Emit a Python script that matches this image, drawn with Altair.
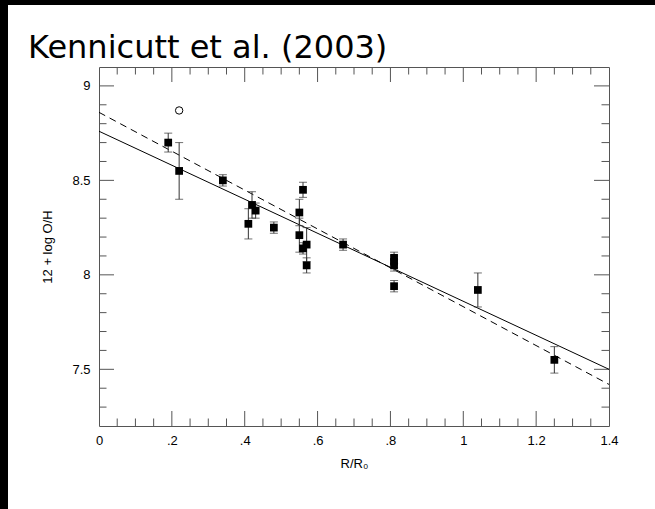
import altair as alt
import pandas as pd

# Galactocentric radius (R/R0) and oxygen abundance with 1-sigma errors
radius = [0.19, 0.22, 0.34, 0.42, 0.43, 0.41, 0.48, 0.56, 0.55, 0.55,
          0.56, 0.57, 0.57, 0.67, 0.81, 0.81, 0.81, 0.81, 1.04, 1.25]
abund = [8.70, 8.55, 8.50, 8.37, 8.34, 8.27, 8.25, 8.45, 8.33, 8.21,
         8.14, 8.16, 8.05, 8.16, 8.09, 8.07, 8.05, 7.94, 7.92, 7.55]
abund_err = [0.05, 0.15, 0.03, 0.07, 0.04, 0.08, 0.03, 0.04, 0.07, 0.09,
             0.03, 0.09, 0.04, 0.03, 0.03, 0.03, 0.03, 0.03, 0.09, 0.07]

# Excluded region (open symbol)
open_radius = [0.22]
open_abund = [8.87]

# Gradient fits, given at the ends of the radius range
fit_r = [0.0, 1.4]
fit_solid = [8.76, 7.50]
fit_dashed = [8.86, 7.42]

# Axis tick positions
x_major = [0.2, 0.4, 0.6, 0.8, 1.0, 1.2]
x_minor = [round(0.05 * i, 2) for i in range(1, 28) if i % 4 != 0]
y_major = [7.5, 8.0, 8.5, 9.0]
y_minor = [round(7.2 + 0.1 * i, 1) for i in range(1, 19)]
y_minor = [v for v in y_minor if v not in y_major]

W, H = 510, 359
MAJ, MIN = 15, 7.5
FRAME = "#555555"
FONT = "Liberation Sans"

pts = pd.DataFrame({"r": radius, "oh": abund, "e": abund_err})
pts["lo"] = pts["oh"] - pts["e"]
pts["hi"] = pts["oh"] + pts["e"]
opn = pd.DataFrame({"r": open_radius, "oh": open_abund})
fits = pd.DataFrame({"r": fit_r, "solid": fit_solid, "dashed": fit_dashed})
one = pd.DataFrame({"k": [0]})

xscale = alt.Scale(domain=[0, 1.4], nice=False, zero=False)
yscale = alt.Scale(domain=[7.2, 9.1], nice=False, zero=False)
xaxis = alt.Axis(
    values=[0, 0.2, 0.4, 0.6, 0.8, 1.0, 1.2, 1.4],
    labelExpr="datum.value == 0 ? '0' : (datum.value < 1 ? replace(format(datum.value, '.1f'), '0.', '.') : format(datum.value, '~g'))",
    ticks=False, domain=False, grid=False, labelFlush=False,
    labelFont=FONT, labelFontSize=13, labelColor="black", labelPadding=8,
    title="R/R₀", titleFont=FONT, titleFontSize=13, titleFontWeight="normal",
    titleColor="black", titlePadding=10,
)
yaxis = alt.Axis(
    values=y_major, format="~g",
    ticks=False, domain=False, grid=False, labelFlush=False,
    labelFont=FONT, labelFontSize=13, labelColor="black", labelPadding=9,
    title="12 + log O/H", titleFont=FONT, titleFontSize=13, titleFontWeight="normal",
    titleColor="black", titlePadding=17,
)


def X(field):
    return alt.X(field, type="quantitative", scale=xscale, axis=xaxis)


def Y(field):
    return alt.Y(field, type="quantitative", scale=yscale, axis=yaxis)


# Inward ticks on all four sides
xmaj = pd.DataFrame({"t": x_major})
xmin = pd.DataFrame({"t": x_minor})
ymaj = pd.DataFrame({"t": y_major})
ymin = pd.DataFrame({"t": y_minor})


def xticks(df, length):
    rule = alt.Chart(df).mark_rule(color=FRAME, strokeWidth=1)
    return (rule.encode(x=X("t"), y=alt.value(H), y2=alt.value(H - length))
            + rule.encode(x=X("t"), y=alt.value(0), y2=alt.value(length)))


def yticks(df, length):
    rule = alt.Chart(df).mark_rule(color=FRAME, strokeWidth=1)
    return (rule.encode(y=Y("t"), x=alt.value(0), x2=alt.value(length))
            + rule.encode(y=Y("t"), x=alt.value(W), x2=alt.value(W - length)))


solid = alt.Chart(fits).mark_line(color="black", strokeWidth=1).encode(x=X("r"), y=Y("solid"))
dashed = alt.Chart(fits).mark_line(color="black", strokeWidth=1, strokeDash=[7, 5]).encode(
    x=X("r"), y=Y("dashed"))

bars = alt.Chart(pts).mark_rule(color="#333333", strokeWidth=1).encode(
    x=X("r"), y=Y("lo"), y2="hi")
cap_lo = alt.Chart(pts).mark_tick(color="#333333", orient="horizontal", size=8, thickness=1).encode(
    x=X("r"), y=Y("lo"))
cap_hi = alt.Chart(pts).mark_tick(color="#333333", orient="horizontal", size=8, thickness=1).encode(
    x=X("r"), y=Y("hi"))
squares = alt.Chart(pts).mark_square(color="black", size=60, opacity=1).encode(
    x=X("r"), y=Y("oh"))
circle = alt.Chart(opn).mark_point(shape="circle", filled=False, color="black",
                                   size=55, strokeWidth=1, opacity=1).encode(
    x=X("r"), y=Y("oh"))

title = alt.Chart(one).mark_text(
    text="Kennicutt et al. (2003)", font="DejaVu Sans", fontSize=32,
    align="left", baseline="alphabetic", color="black",
).encode(x=alt.value(-71), y=alt.value(-9))

# Dark strips along the left and top edges of the page
edge_left = alt.Chart(one).mark_rect(color="black", clip=False).encode(
    x=alt.value(-99), x2=alt.value(-91), y=alt.value(-67), y2=alt.value(H + 83))
edge_top = alt.Chart(one).mark_rect(color="black", clip=False).encode(
    x=alt.value(-99), x2=alt.value(W + 46), y=alt.value(-67), y2=alt.value(-62))

chart = alt.layer(
    xticks(xmaj, MAJ), xticks(xmin, MIN), yticks(ymaj, MAJ), yticks(ymin, MIN),
    solid, dashed, bars, cap_lo, cap_hi, squares, circle,
    title, edge_left, edge_top,
).properties(
    width=W, height=H,
    autosize=alt.AutoSizeParams(type="none"),
    padding={"left": 99, "top": 67, "right": 46, "bottom": 83},
    background="white",
).configure_view(stroke=FRAME, strokeWidth=1)

chart.save("out.html", embed_options={"renderer": "svg", "actions": False})
